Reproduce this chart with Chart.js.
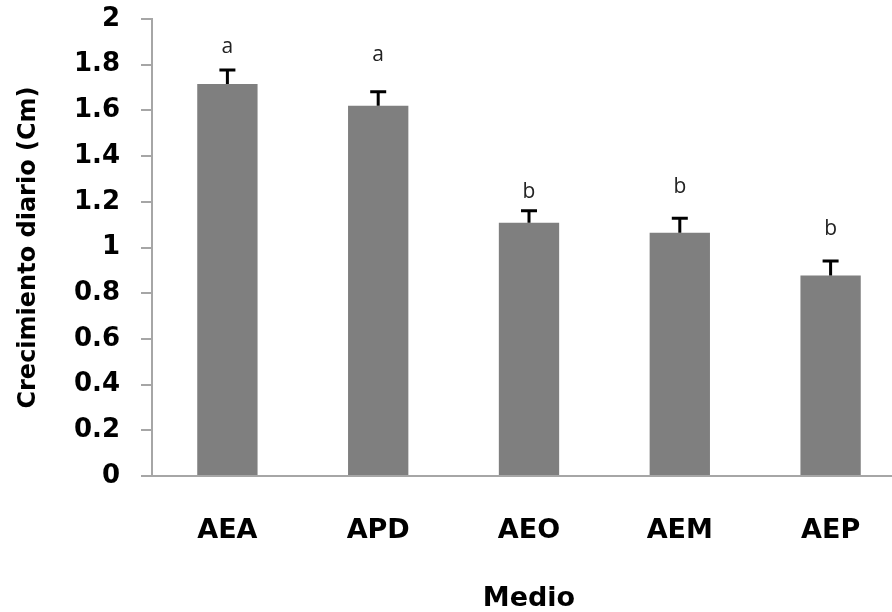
<!DOCTYPE html>
<html>
<head>
<meta charset="utf-8">
<script src="https://cdn.jsdelivr.net/npm/chart.js@4.4.0/dist/chart.umd.min.js"></script>
<style>
  html, body { margin: 0; padding: 0; background: #fff; overflow: hidden; }
  #wrap { width: 906px; height: 612px; }
</style>
</head>
<body>
<div id="wrap"><canvas id="chart" width="906" height="612"></canvas></div>
<script>
// Values.
const categories = ["AEA", "APD", "AEO", "AEM", "AEP"];
const growth = [1.715, 1.62, 1.108, 1.065, 0.877];
const growthErr = [0.062, 0.062, 0.053, 0.063, 0.064];
const letters = ["a", "a", "b", "b", "b"];
// value on the y scale where each significance letter sits
const letterLevel = [1.877, 1.842, 1.243, 1.265, 1.081];
const yTicks = [0, 0.2, 0.4, 0.6, 0.8, 1, 1.2, 1.4, 1.6, 1.8, 2];

const AXIS_GRAY = "#a6a6a6";

// Upward-only error bars plus the a/b letters above them.
const errorBars = {
  id: "errorBars",
  afterDatasetsDraw(chart) {
    const { ctx, scales: { y } } = chart;
    const meta = chart.getDatasetMeta(0);
    ctx.save();
    meta.data.forEach((bar, i) => {
      const top = y.getPixelForValue(growth[i]);
      const end = y.getPixelForValue(growth[i] + growthErr[i]);
      ctx.strokeStyle = "#000";
      ctx.lineWidth = 3;
      ctx.beginPath();
      ctx.moveTo(bar.x, top);
      ctx.lineTo(bar.x, end);
      ctx.moveTo(bar.x - 8, end);
      ctx.lineTo(bar.x + 8, end);
      ctx.stroke();

      ctx.fillStyle = "#222";
      ctx.font = "21px 'Open Sans'";
      ctx.textAlign = "center";
      ctx.textBaseline = "middle";
      ctx.fillText(letters[i], bar.x, y.getPixelForValue(letterLevel[i]));
    });
    ctx.restore();
  },
};

new Chart(document.getElementById("chart"), {
  type: "bar",
  data: {
    labels: categories,
    datasets: [{
      data: growth,
      backgroundColor: "#7f7f7f",
      borderWidth: 0,
      barPercentage: 0.4,
      categoryPercentage: 1,
    }],
  },
  options: {
    responsive: false,
    animation: false,
    layout: { padding: 0 },
    plugins: { legend: { display: false }, tooltip: { enabled: false } },
    scales: {
      x: {
        grid: { display: false, drawTicks: false },
        border: { display: true, color: AXIS_GRAY, width: 2 },
        ticks: { color: "#000", padding: 39, font: { family: "DejaVu Sans", size: 27, weight: "bold" } },
        title: {
          display: true,
          text: "Medio",
          color: "#000",
          padding: { top: 0, bottom: -3 },
          font: { family: "DejaVu Sans", size: 27, weight: "bold" },
        },
        afterFit(scale) {
          scale.height = 136;
          scale.paddingLeft = 0;
          scale.paddingRight = 0;
        },
      },
      y: {
        min: 0,
        max: 2,
        afterBuildTicks(scale) { scale.ticks = yTicks.map(v => ({ value: v })); },
        grid: { drawOnChartArea: false, drawTicks: true, tickLength: 11, color: AXIS_GRAY, lineWidth: 2 },
        border: { display: true, color: AXIS_GRAY, width: 2 },
        ticks: {
          color: "#000",
          padding: 21,
          font: { family: "DejaVu Sans", size: 26, weight: "bold" },
          callback: v => String(+Number(v).toFixed(1)),
        },
        title: {
          display: true,
          text: "Crecimiento diario (Cm)",
          color: "#000",
          padding: { top: 14, bottom: 0 },
          font: { family: "DejaVu Sans", size: 24, weight: "bold" },
        },
        afterFit(scale) {
          scale.width = 152;
          scale.paddingTop = 19;
          scale.paddingBottom = 0;
        },
      },
    },
  },
  plugins: [errorBars],
});
</script>
</body>
</html>
